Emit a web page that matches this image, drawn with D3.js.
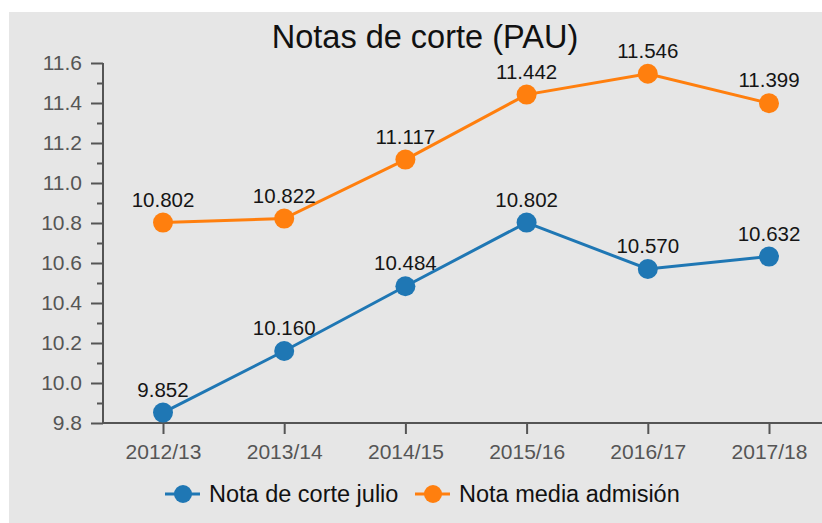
<!DOCTYPE html>
<html>
<head>
<meta charset="utf-8">
<script src="https://cdn.jsdelivr.net/npm/d3@7"></script>
<style>
  html, body { margin: 0; padding: 0; background: #ffffff; }
  svg { display: block; font-family: "Liberation Sans", Arial, Helvetica, sans-serif; }
</style>
</head>
<body>
<svg id="chart" width="822" height="523"></svg>
<script>
const categories = ["2012/13", "2013/14", "2014/15", "2015/16", "2016/17", "2017/18"];
const notaCorteJulio = [9.852, 10.160, 10.484, 10.802, 10.570, 10.632];
const notaMediaAdmision = [10.802, 10.822, 11.117, 11.442, 11.546, 11.399];
const seriesNames = ["Nota de corte julio", "Nota media admisión"];
const seriesColors = ["#1f77b4", "#ff7f0e"];
const yTicks = [9.8, 10.0, 10.2, 10.4, 10.6, 10.8, 11.0, 11.2, 11.4, 11.6];
const yMinorTicks = [9.9, 10.1, 10.3, 10.5, 10.7, 10.9, 11.1, 11.3, 11.5];
const titleText = "Notas de corte (PAU)";

const svg = d3.select("#chart");
const W = 822, H = 523;

// background panel
svg.append("rect").attr("x", 9).attr("y", 12).attr("width", W - 9).attr("height", H - 12)
  .attr("fill", "#e6e6e6");

const x = d3.scalePoint().domain(categories).range([163, 769]);
const y = d3.scaleLinear().domain([9.8, 11.6]).range([423, 63]);
const axisX0 = 103;

// title
svg.append("text").attr("x", 425).attr("y", 48).attr("text-anchor", "middle")
  .attr("font-size", 32.5).attr("fill", "#111").text(titleText);

const axisColor = "#555";

// Y axis
const yAxisG = svg.append("g").attr("transform", `translate(${axisX0},0)`)
  .call(d3.axisLeft(y).tickValues(yTicks).tickFormat(d3.format(".1f")).tickSize(12).tickPadding(9));
yAxisG.select(".domain").remove();
yAxisG.selectAll(".tick line").attr("stroke", axisColor).attr("stroke-width", 2);
yAxisG.selectAll(".tick text").attr("font-size", 21).attr("fill", "#555").attr("font-family", null);
const yMinorG = svg.append("g").attr("transform", `translate(${axisX0},0)`)
  .call(d3.axisLeft(y).tickValues(yMinorTicks).tickFormat("").tickSize(6));
yMinorG.select(".domain").remove();
yMinorG.selectAll(".tick line").attr("stroke", axisColor).attr("stroke-width", 2);
svg.append("line").attr("x1", axisX0).attr("x2", axisX0).attr("y1", y(11.6)).attr("y2", y(9.8))
  .attr("stroke", axisColor).attr("stroke-width", 2);

// X axis
const xAxisG = svg.append("g").attr("transform", `translate(0,${y(9.8)})`)
  .call(d3.axisBottom(x).tickSize(11).tickPadding(10));
xAxisG.select(".domain").remove();
xAxisG.selectAll(".tick line").attr("stroke", axisColor).attr("stroke-width", 2);
xAxisG.selectAll(".tick text").attr("font-size", 21).attr("fill", "#555").attr("font-family", null);
svg.append("line").attr("x1", axisX0 - 1).attr("x2", W).attr("y1", y(9.8)).attr("y2", y(9.8))
  .attr("stroke", axisColor).attr("stroke-width", 2);

// series
const allSeries = [notaCorteJulio, notaMediaAdmision];
const line = d3.line().x((d, i) => x(categories[i])).y(d => y(d));
allSeries.forEach((vals, si) => {
  const g = svg.append("g");
  g.append("path").datum(vals).attr("d", line).attr("fill", "none")
    .attr("stroke", seriesColors[si]).attr("stroke-width", 3);
  g.selectAll("circle").data(vals).join("circle")
    .attr("cx", (d, i) => x(categories[i])).attr("cy", d => y(d)).attr("r", 10)
    .attr("fill", seriesColors[si]);
  g.selectAll("text").data(vals).join("text")
    .attr("x", (d, i) => x(categories[i])).attr("y", d => y(d) - 16)
    .attr("text-anchor", "middle").attr("font-size", 20.5).attr("fill", "#151515")
    .text(d => d3.format(".3f")(d));
});

// legend
const legendItems = [{ x: 165, name: seriesNames[0], color: seriesColors[0] },
                     { x: 415, name: seriesNames[1], color: seriesColors[1] }];
const ly = 494;
legendItems.forEach(it => {
  svg.append("line").attr("x1", it.x).attr("x2", it.x + 35).attr("y1", ly).attr("y2", ly)
    .attr("stroke", it.color).attr("stroke-width", 3);
  svg.append("circle").attr("cx", it.x + 18).attr("cy", ly).attr("r", 9).attr("fill", it.color);
  svg.append("text").attr("x", it.x + 44).attr("y", ly).attr("dy", "0.35em")
    .attr("font-size", 23.5).attr("fill", "#111").text(it.name);
});
</script>
</body>
</html>
